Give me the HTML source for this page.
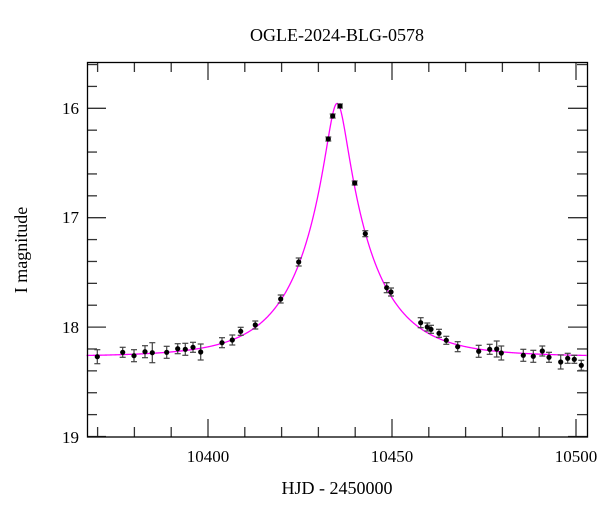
<!DOCTYPE html>
<html><head><meta charset="utf-8"><style>
html,body{margin:0;padding:0;background:#fff;}
svg{display:block;font-family:"Liberation Serif",serif;}
</style></head><body>
<svg id="s" width="600" height="512" viewBox="0 0 600 512" xmlns="http://www.w3.org/2000/svg">
<text x="337" y="41" font-size="18" text-anchor="middle">OGLE-2024-BLG-0578</text>
<text x="337" y="494" font-size="18" text-anchor="middle">HJD - 2450000</text>
<text transform="translate(27,250) rotate(-90)" font-size="18" text-anchor="middle">I magnitude</text>
<g font-size="17" text-anchor="end">
<text x="79" y="114">16</text>
<text x="79" y="223">17</text>
<text x="79" y="333">18</text>
<text x="79" y="443">19</text>
</g>
<g font-size="17" text-anchor="middle">
<text x="208" y="462">10400</text>
<text x="392" y="462">10450</text>
<text x="576" y="462">10500</text>
</g>
<g id="ticks" stroke="#333" stroke-width="1.3"></g>
<path id="curve" fill="none" stroke="#ff00ff" stroke-width="1.3"/>
<g id="pts"></g>
<rect x="87.5" y="62.5" width="500" height="374.5" fill="none" stroke="#000" stroke-width="1.3"/>
</svg>
<script>
function X(t){return 208+(t-10400)*3.68;}
function Y(m){return 108.3+(m-16)*109.4;}
var tk=document.getElementById("ticks"),h="";
for(var t=10370;t<=10500;t+=10){var x=X(t),L=(t%50==0)?18:10;
h+='<line x1="'+x+'" y1="437" x2="'+x+'" y2="'+(437-L)+'"/>';
h+='<line x1="'+x+'" y1="62" x2="'+x+'" y2="'+(62+L)+'"/>';}
for(var i=0;i<=17;i++){var m=15.6+i*0.2;var y=Y(m);if(y<62||y>437.5)continue;
var maj=Math.abs(m-Math.round(m))<1e-6,L=maj?19:10;
h+='<line x1="87" y1="'+y+'" x2="'+(87+L)+'" y2="'+y+'"/>';
h+='<line x1="587" y1="'+y+'" x2="'+(587-L)+'" y2="'+y+'"/>';}
tk.innerHTML=h;
var t0=10435.1,u0=0.153,tE=18,base=18.27;
function A(u){return (u*u+2)/(u*Math.sqrt(u*u+4));}
var A0=A(u0),mp=15.955,d="";
var fs=(Math.pow(10,0.4*(base-mp))-1)/(A0-1);
for(var t=10367;t<=10503;t+=0.1){var u=Math.sqrt(u0*u0+Math.pow((t-t0)/tE,2));
var a=A(u);
var m=base-2.5*Math.log10(1+fs*(a-1));
d+=(d?"L":"M")+X(t).toFixed(2)+","+Y(m).toFixed(2);}
document.getElementById("curve").setAttribute("d",d);
var P=[[97.3,356.7,7],[122.7,352.3,5],[134,355.7,6],[145,351.7,6],[152.3,352.7,10],[166.7,352.3,6],[177.7,348.7,5],[185.3,349.3,6],[193,347.3,5],[200.7,352,8],[222,342.7,5],[232.3,340,5],[240.7,331.3,4],[255.3,325,4],[280.7,299,4],[298.7,262,4],[328.3,139,2],[332.7,116,2],[340,106,2],[354.7,183,2],[365.3,233.7,3],[386.7,287.7,5],[391,292,4],[420.7,322.7,5],[427.3,327,4],[431,329.3,4],[439,333.3,4],[446.3,340.3,4],[457.7,346.7,5],[478.7,351.3,6],[489.7,349.3,5],[496.7,349,8],[501.3,353,7],[523.3,355.3,6],[533.3,356.3,6],[542.3,351,5],[549,357.3,5],[560.7,362,7],[567.7,358.3,5],[574.3,359.3,4],[581.3,365.3,5]];
var g="";P.forEach(function(p){var x=p[0],y=p[1],e=p[2];
g+='<line x1="'+x+'" y1="'+(y-e)+'" x2="'+x+'" y2="'+(y+e)+'" stroke="#444" stroke-width="1.2"/>';
g+='<line x1="'+(x-3)+'" y1="'+(y-e)+'" x2="'+(x+3)+'" y2="'+(y-e)+'" stroke="#444" stroke-width="1.2"/>';
g+='<line x1="'+(x-3)+'" y1="'+(y+e)+'" x2="'+(x+3)+'" y2="'+(y+e)+'" stroke="#444" stroke-width="1.2"/>';
g+='<circle cx="'+x+'" cy="'+y+'" r="2.6" fill="#000"/>';});
document.getElementById("pts").innerHTML=g;
</script>
</body></html>
